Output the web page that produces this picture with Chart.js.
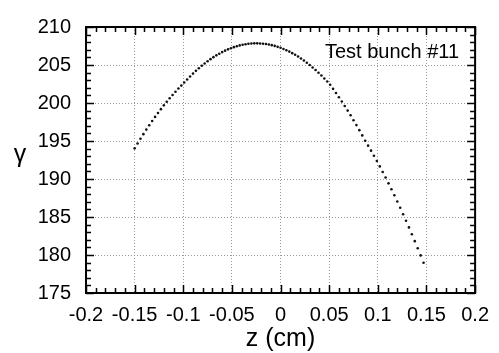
<!DOCTYPE html>
<html>
<head>
<meta charset="utf-8">
<script src="https://cdn.jsdelivr.net/npm/chart.js@4.4.0/dist/chart.umd.min.js"></script>
<style>
  html, body { margin: 0; padding: 0; background: #fff; }
  #wrap { width: 499px; height: 353px; }
</style>
</head>
<body>
<div id="wrap"><canvas id="c" width="499" height="353"></canvas></div>
<script>
// ---- data ----
const zValues = [
  -0.150,-0.147,-0.144,-0.141,-0.138,-0.135,-0.132,-0.129,-0.126,-0.123,
  -0.120,-0.117,-0.114,-0.111,-0.108,-0.105,-0.102,-0.099,-0.096,-0.093,
  -0.090,-0.087,-0.084,-0.081,-0.078,-0.075,-0.072,-0.069,-0.066,-0.063,
  -0.060,-0.057,-0.054,-0.051,-0.048,-0.045,-0.042,-0.039,-0.036,-0.033,
  -0.030,-0.027,-0.024,-0.021,-0.018,-0.015,-0.012,-0.009,-0.006,-0.003,
   0.000, 0.003, 0.006, 0.009, 0.012, 0.015, 0.018, 0.021, 0.024, 0.027,
   0.030, 0.033, 0.036, 0.039, 0.042, 0.045, 0.048, 0.051, 0.054, 0.057,
   0.060, 0.063, 0.066, 0.069, 0.072, 0.075, 0.078, 0.081, 0.084, 0.087,
   0.090, 0.093, 0.096, 0.099, 0.102, 0.105, 0.108, 0.111, 0.114, 0.117,
   0.120, 0.123, 0.126, 0.129, 0.132, 0.135, 0.138, 0.141, 0.144, 0.147
];
const gammaValues = [
  194.03,194.67,195.30,195.90,196.50,197.07,197.63,198.17,198.69,199.19,
  199.69,200.17,200.62,201.06,201.49,201.90,202.29,202.69,203.10,203.49,
  203.87,204.23,204.57,204.90,205.20,205.49,205.77,206.03,206.27,206.49,
  206.70,206.89,207.06,207.21,207.35,207.47,207.58,207.67,207.74,207.79,
  207.83,207.85,207.85,207.83,207.80,207.76,207.69,207.61,207.51,207.39,
  207.26,207.11,206.94,206.76,206.56,206.34,206.11,205.86,205.59,205.30,
  205.00,204.68,204.34,203.99,203.62,203.23,202.83,202.41,201.86,201.32,
  200.75,200.19,199.60,199.00,198.38,197.74,197.09,196.43,195.74,195.03,
  194.39,193.73,193.06,192.37,191.66,190.93,190.19,189.43,188.65,187.86,
  187.04,186.22,185.37,184.51,183.63,182.73,181.82,180.89,179.95,178.98
];
const xTickLabels = ['-0.2','-0.15','-0.1','-0.05','0','0.05','0.1','0.15','0.2'];
const yTickLabels = ['175','180','185','190','195','200','205','210'];
const xAxisTitle = 'z (cm)';
const yAxisTitle = 'γ';
const annotationText = 'Test bunch #11';

const FONT = '"Liberation Sans", Arial, Helvetica, sans-serif';
const points = zValues.map((z, i) => ({ x: z, y: gammaValues[i] }));

const framePlugin = {
  id: 'frame',
  afterDraw(chart) {
    const ctx = chart.ctx;
    const xs = chart.scales.x, ys = chart.scales.y;
    const a = chart.chartArea;
    ctx.save();
    ctx.strokeStyle = '#000';
    // minor + major ticks, inward on all sides
    ctx.lineWidth = 1.5;
    ctx.beginPath();
    for (let k = -20; k <= 20; k++) {
      const px = Math.round(xs.getPixelForValue(k / 100)) + 0.5;
      const len = (k % 5 === 0) ? 8 : 5;
      ctx.moveTo(px, a.bottom); ctx.lineTo(px, a.bottom - len);
      ctx.moveTo(px, a.top); ctx.lineTo(px, a.top + len);
    }
    for (let v = 175; v <= 210; v++) {
      const py = Math.round(ys.getPixelForValue(v)) + 0.5;
      const len = (v % 5 === 0) ? 8 : 5;
      ctx.moveTo(a.left, py); ctx.lineTo(a.left + len, py);
      ctx.moveTo(a.right, py); ctx.lineTo(a.right - len, py);
    }
    ctx.stroke();
    // frame
    ctx.lineWidth = 2;
    ctx.strokeRect(a.left, a.top, a.right - a.left, a.bottom - a.top);
    // texts
    ctx.fillStyle = '#000';
    ctx.font = '20px ' + FONT;
    ctx.textAlign = 'right';
    ctx.textBaseline = 'alphabetic';
    ctx.fillText(annotationText, a.right - 16, a.top + 31);
    ctx.font = '25px ' + FONT;
    ctx.textAlign = 'center';
    ctx.fillText(yAxisTitle, 20, 162);
    ctx.restore();
  }
};

new Chart(document.getElementById('c'), {
  type: 'scatter',
  data: {
    datasets: [{
      data: points,
      pointRadius: 1.3,
      pointBorderWidth: 0,
      pointBackgroundColor: '#111',
      showLine: false
    }]
  },
  options: {
    responsive: false,
    devicePixelRatio: 1,
    animation: false,
    layout: { padding: { top: 17, right: 21, left: 0, bottom: 0 } },
    plugins: { legend: { display: false }, tooltip: { enabled: false } },
    scales: {
      x: {
        type: 'linear',
        min: -0.2, max: 0.2,
        afterFit(s) { s.height = 60; },
        afterBuildTicks(s) { s.ticks = xTickLabels.map(t => ({ value: parseFloat(t) })); },
        ticks: {
          color: '#000',
          font: { family: FONT, size: 20 },
          padding: 10,
          maxRotation: 0,
          autoSkip: false,
          callback: (v, i) => xTickLabels[i]
        },
        grid: { color: '#999', lineWidth: 1, drawTicks: false },
        border: { display: false, dash: [1, 2] },
        title: {
          display: true, text: xAxisTitle, color: '#000',
          font: { family: FONT, size: 25 },
          padding: { top: 0, bottom: -1 }
        }
      },
      y: {
        type: 'linear',
        min: 175, max: 210,
        afterFit(s) { s.width = 86; },
        afterBuildTicks(s) { s.ticks = yTickLabels.map(t => ({ value: parseFloat(t) })); },
        ticks: {
          color: '#000',
          font: { family: FONT, size: 20 },
          padding: 15,
          autoSkip: false,
          callback: (v, i) => yTickLabels[i]
        },
        grid: { color: '#999', lineWidth: 1, drawTicks: false },
        border: { display: false, dash: [1, 2] }
      }
    }
  },
  plugins: [framePlugin]
});
</script>
</body>
</html>
